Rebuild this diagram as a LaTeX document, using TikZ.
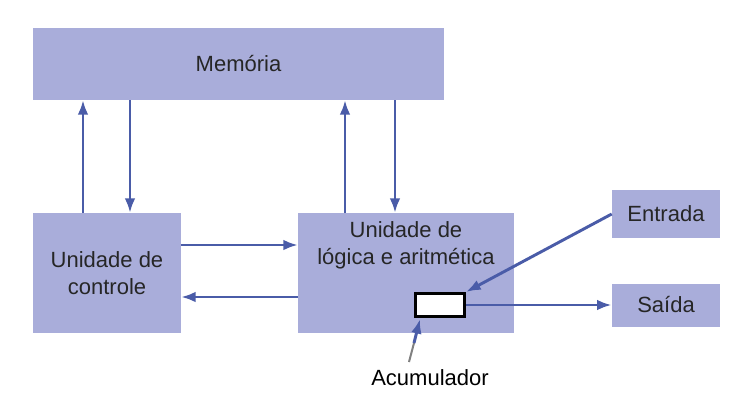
\documentclass[tikz,border=0pt]{standalone}
\usepackage{fontspec}
\setmainfont{Liberation Sans}
\usetikzlibrary{arrows.meta}
\definecolor{box}{HTML}{A9ADDA}
\definecolor{arr}{HTML}{4A5CA8}
\begin{document}
\begin{tikzpicture}[x=0.75pt,y=-0.75pt,
  blk/.style={fill=box,draw=none,inner sep=0,font=\fontsize{16.5}{20}\selectfont,text=black!85},
  ar/.style={draw=arr,line width=2.2pt,-{Latex[length=11pt,width=8pt]}}]
\useasboundingbox (0,0) rectangle (740,404);
\node[blk,minimum width=308.25pt,minimum height=54pt] (mem) at (238.5,64) {Memória};
\node[blk,minimum width=111pt,minimum height=90pt,align=center] (uc) at (107,273) {Unidade de\\controle};
\node[blk,minimum width=162pt,minimum height=90pt] (ula) at (406,273) {};
\node[font=\fontsize{16.5}{20}\selectfont,align=center,text=black!85] (ulat) at (406,245) {Unidade de\\lógica e aritmética};
\node[blk,minimum width=81pt,minimum height=36pt] (ent) at (666,214) {Entrada};
\node[blk,minimum width=81pt,minimum height=32.25pt] (sai) at (666,305) {Saída};
\node[draw=black,line width=2pt,fill=white,minimum width=37pt,minimum height=17.5pt,inner sep=0] (acc) at (440,305) {};
\node[font=\fontsize{16.5}{20}\selectfont] (acl) at (430,378) {Acumulador};
\draw[ar] (83,213) -- (83,100);
\draw[ar] (130,100) -- (130,213);
\draw[ar] (345,213) -- (345,100);
\draw[ar] (395,100) -- (395,213);
\draw[ar] (181,245) -- (298,245);
\draw[ar] (298,297) -- (181,297);
\draw[ar] (ent.west) -- (acc.north east);
\draw[ar] (acc.east) -- (sai.west);
\draw[draw=gray,line width=1.5pt] (409,362) -- (414,343);
\draw[ar] (414,343) -- (420,319);
\end{tikzpicture}
\end{document}
